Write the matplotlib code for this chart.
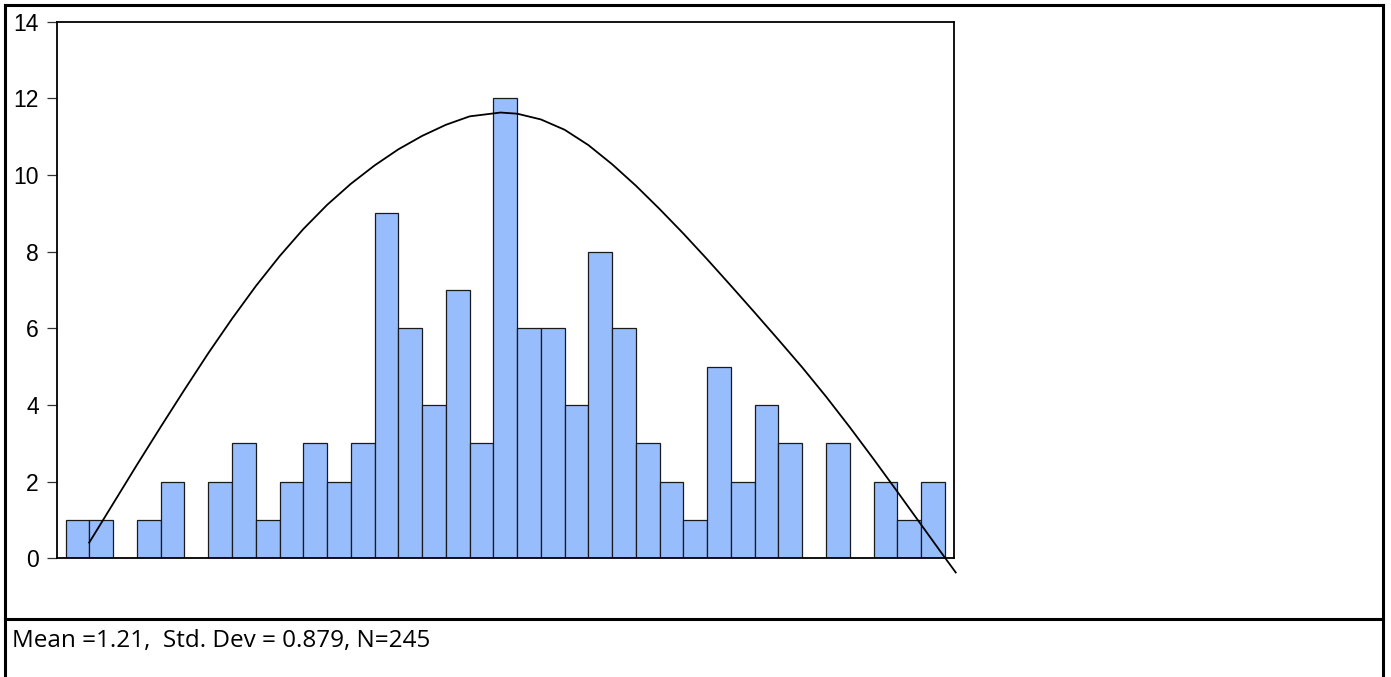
import matplotlib
matplotlib.use("Agg")
import matplotlib.pyplot as plt
from matplotlib.lines import Line2D
import numpy as np

# histogram counts per bin (bin index units)
counts = [1, 1, 0, 1, 2, 0, 2, 3, 1, 2, 3, 2, 3, 9, 6, 4, 7, 3, 12, 6,
          6, 4, 8, 6, 3, 2, 1, 5, 2, 4, 3, 0, 3, 0, 2, 1, 2]

# fitted curve (x in bin units, y in counts)
curve_x = [0.99, 2, 3, 4, 5, 6, 7, 8, 9, 10, 11, 12, 13, 14, 15, 16, 17, 18.3,
           19, 20, 21, 22, 23, 24, 25, 26, 27, 28, 29, 30, 31, 32, 33, 34,
           35, 36, 37, 37.46]
curve_y = [0.41, 1.43, 2.44, 3.43, 4.40, 5.35, 6.25, 7.10, 7.88, 8.59, 9.22,
           9.77, 10.25, 10.67, 11.02, 11.31, 11.53, 11.63,
           11.60, 11.45, 11.18, 10.78, 10.28, 9.72, 9.11, 8.47, 7.80, 7.11,
           6.41, 5.70, 4.98, 4.22, 3.42, 2.59, 1.74, 0.88, 0.02, -0.37]

yticks = [0, 2, 4, 6, 8, 10, 12, 14]
stats_text = "Mean =1.21,  Std. Dev = 0.879, N=245"

W, H = 1391, 677
fig = plt.figure(figsize=(W / 100, H / 100), dpi=100)
fig.patch.set_facecolor("white")

ax = fig.add_axes([57 / W, 1 - 558.3 / H, (954 - 57) / W, (558.3 - 21.7) / H])

x = np.arange(len(counts))
ax.bar(x, counts, width=1.0, align="edge", color="#97bdfd",
       edgecolor="#1a1a1a", linewidth=0.9, zorder=2)
ax.plot(curve_x, curve_y, color="black", linewidth=1.3, clip_on=False, zorder=3,
        solid_joinstyle="round")

w = 23.76
ax.set_xlim((57 - 65.7) / w, (954 - 65.7) / w)
ax.set_ylim(0, 14)
ax.set_yticks(yticks)
ax.set_yticklabels([str(v) for v in yticks], fontsize=16.5, family="Liberation Sans")
ax.set_xticks([])
ax.tick_params(axis="y", direction="out", length=7, width=0.9, pad=6, color="#333333")
for s in ax.spines.values():
    s.set_linewidth(1.3)
    s.set_color("black")

lw = 2.2
def fline(x0, y0, x1, y1):
    fig.add_artist(Line2D([x0 / W, x1 / W], [1 - y0 / H, 1 - y1 / H],
                          transform=fig.transFigure, color="black", linewidth=lw))

fline(4.5, 5, 1383, 5)
fline(4.5, 5, 4.5, H)
fline(1383, 5, 1383, H)
fline(4.5, 619, 1383, 619)

fig.text(12 / W, 1 - 646.5 / H, stats_text, fontsize=17.5, family="Open Sans",
         ha="left", va="baseline", color="black")

fig.savefig("out.png", dpi=100, facecolor="white")
